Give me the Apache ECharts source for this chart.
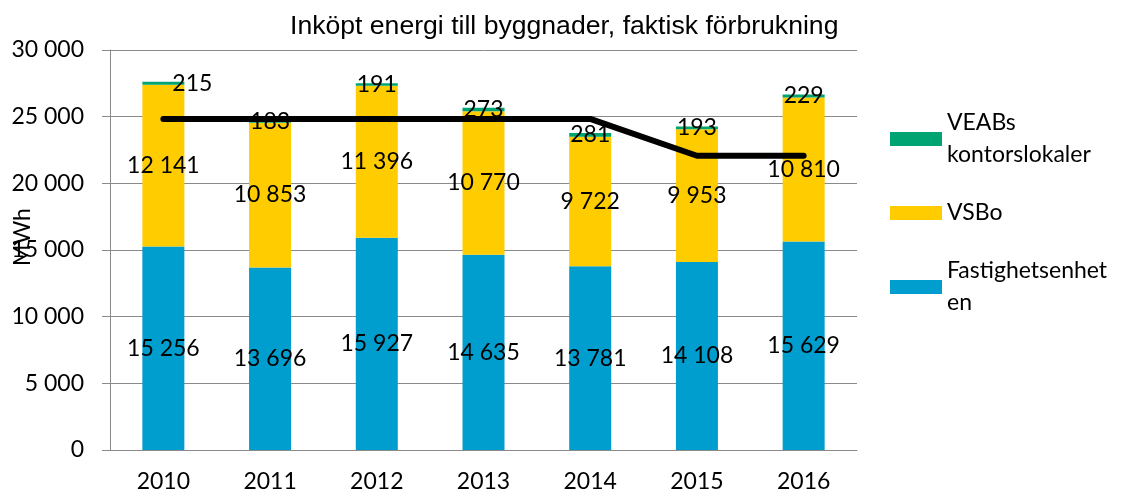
<!DOCTYPE html>
<html>
<head>
<meta charset="utf-8">
<script src="https://cdn.jsdelivr.net/npm/echarts@6/dist/echarts.min.js"></script>
<style>
  html, body { margin: 0; padding: 0; background: #fff; }
  #app { width: 1123px; height: 495px; }
</style>
</head>
<body>
<div id="app"></div>
<script>
const years = ['2010', '2011', '2012', '2013', '2014', '2015', '2016']
const fastighet = [15256, 13696, 15927, 14635, 13781, 14108, 15629]
const vsbo = [12141, 10853, 11396, 10770, 9722, 9953, 10810]
const veab = [215, 183, 191, 273, 281, 193, 229]
const target = [24830, 24830, 24830, 24830, 24830, 22070, 22070]

const font = 'Lato'
const gray = '#8a8a8a'
const fmt = v => String(v).replace(/\B(?=(\d{3})+(?!\d))/g, ' ')

const labelStyle = {
  show: true,
  position: 'inside',
  color: '#000',
  fontFamily: font,
  fontSize: 23,
  formatter: p => fmt(p.value)
}

const echart = echarts.init(document.getElementById('app'))

echart.setOption({
  animation: false,
  title: {
    text: 'Inköpt energi till byggnader, faktisk förbrukning',
    left: 285,
    top: 8,
    textStyle: {
      fontFamily: 'Liberation Sans',
      fontWeight: 'normal',
      fontSize: 26.6,
      color: '#000'
    }
  },
  grid: {
    left: 110,
    right: 266,
    top: 50,
    bottom: 45,
    outerBoundsMode: 'none'
  },
  legend: {
    orient: 'vertical',
    left: 890,
    top: 91,
    padding: 0,
    itemGap: -22,
    itemWidth: 52,
    itemHeight: 14,
    icon: 'rect',
    textStyle: {
      fontFamily: font,
      fontSize: 23,
      lineHeight: 32,
      color: '#000'
    },
    data: [
      { name: 'VEABs kontorslokaler', textStyle: { padding: [32, 0, 0, 0] } },
      { name: 'VSBo', textStyle: { padding: [32, 0, 32, 0] } },
      { name: 'Fastighetsenheten', textStyle: { padding: [32, 0, 0, 0] } }
    ],
    formatter: name => {
      if (name === 'VEABs kontorslokaler') return 'VEABs\nkontorslokaler'
      if (name === 'Fastighetsenheten') return 'Fastighetsenhet\nen'
      return name
    }
  },
  xAxis: {
    type: 'category',
    data: years,
    axisLine: { lineStyle: { color: gray } },
    axisTick: { length: 9, lineStyle: { color: gray } },
    axisLabel: {
      margin: 20,
      color: '#000',
      fontFamily: font,
      fontSize: 23
    }
  },
  yAxis: {
    type: 'value',
    min: 0,
    max: 30000,
    interval: 5000,
    name: 'MWh',
    nameLocation: 'middle',
    nameGap: 76,
    nameMoveOverlap: false,
    nameTextStyle: {
      color: '#000',
      fontFamily: font,
      fontSize: 23,
      padding: [0, 0, 0, 26]
    },
    axisLine: { show: true, lineStyle: { color: gray } },
    axisTick: { show: true, length: 8, lineStyle: { color: gray } },
    splitLine: { lineStyle: { color: gray } },
    axisLabel: {
      margin: 26,
      color: '#000',
      fontFamily: font,
      fontSize: 23,
      formatter: fmt
    }
  },
  series: [
    {
      name: 'Fastighetsenheten',
      type: 'bar',
      stack: 'energi',
      barWidth: 42,
      itemStyle: { color: '#009ECE' },
      label: labelStyle,
      data: fastighet
    },
    {
      name: 'VSBo',
      type: 'bar',
      stack: 'energi',
      barWidth: 42,
      itemStyle: { color: '#FFCC00' },
      label: labelStyle,
      data: vsbo
    },
    {
      name: 'VEABs kontorslokaler',
      type: 'bar',
      stack: 'energi',
      barWidth: 42,
      itemStyle: { color: '#00A473' },
      label: labelStyle,
      // first label sits a bit to the right in the original
      data: veab.map((v, i) => i === 0 ? { value: v, label: { offset: [29, 0] } } : v)
    },
    {
      name: 'Mål',
      type: 'line',
      symbol: 'none',
      z: 5,
      lineStyle: { color: '#000', width: 6, cap: 'round' },
      data: target
    }
  ]
})
</script>
</body>
</html>
